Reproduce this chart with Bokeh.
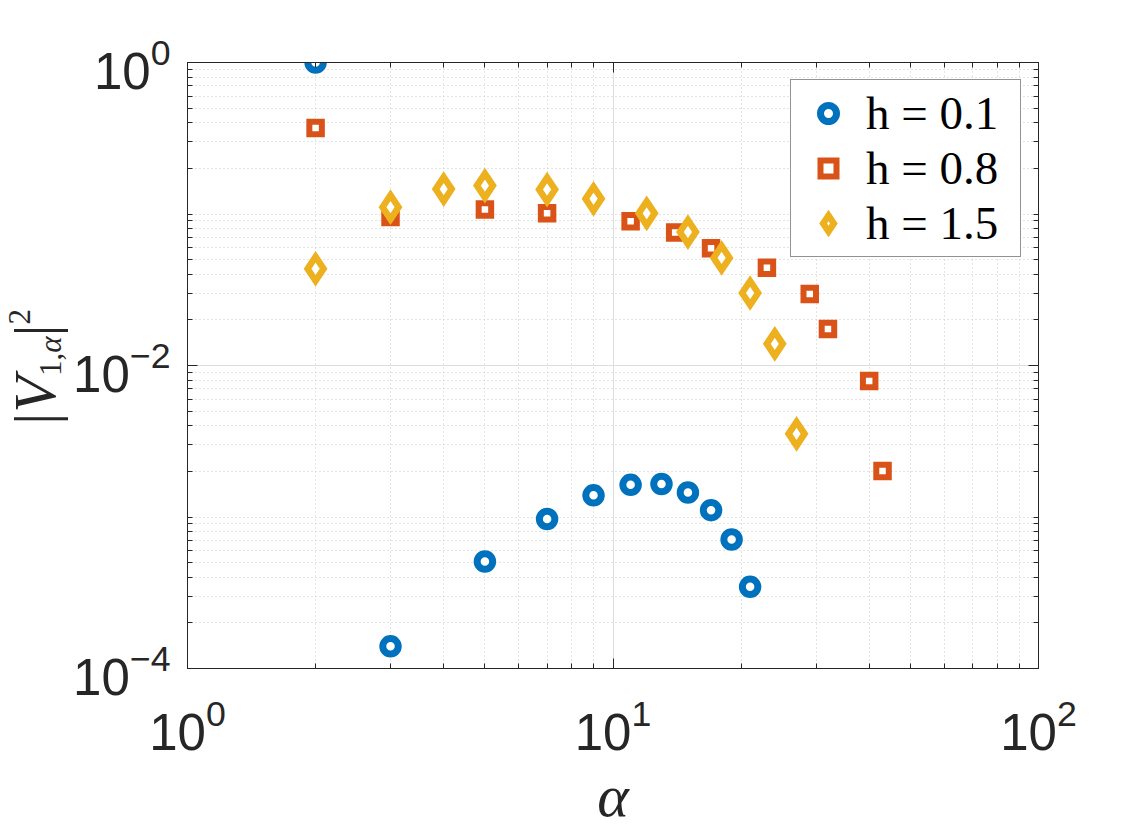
from bokeh.plotting import figure
from bokeh.layouts import row
from bokeh.models import (FixedTicker, LogAxis, Legend, LegendItem, Range1d, Div)
from bokeh.embed import file_html
from bokeh.resources import INLINE

# ---- data ----
alpha_h01 = [2, 3, 5, 7, 9, 11, 13, 15, 17, 19, 21]
v_h01 = [1.0, 1.40e-4, 5.08e-4, 9.7e-4, 1.39e-3, 1.63e-3, 1.65e-3, 1.45e-3, 1.11e-3, 7.1e-4, 3.46e-4]

alpha_h08 = [2, 3, 5, 7, 11, 14, 17, 23, 29, 32, 40, 43]
v_h08 = [0.37, 0.0957, 0.107, 0.101, 0.0897, 0.0755, 0.0595, 0.0441, 0.0297, 0.0174, 7.9e-3, 2.01e-3]

alpha_h15 = [2, 3, 4, 5, 7, 9, 12, 15, 18, 21, 24, 27]
v_h15 = [0.0435, 0.111, 0.146, 0.154, 0.145, 0.126, 0.101, 0.076, 0.0513, 0.0301, 0.0139, 3.54e-3]

labels = ["h = 0.1", "h = 0.8", "h = 1.5"]
x_label = "\u03b1"

x_major = [1, 10, 100]
x_minor = [m * d for d in (1, 10) for m in range(2, 10)]
y_major = [1e-4, 1e-2, 1]
y_minor = [m * 10.0 ** e for e in (-4, -3, -2, -1) for m in range(1, 10)
           if not (m == 1 and e in (-4, -2))]

BLUE = "#0072BD"
RED = "#D95319"
YEL = "#EDB120"
AX = "#262626"

DIVW = 70

p = figure(width=1146 - DIVW, height=834, x_axis_type="log", y_axis_type="log",
           x_range=Range1d(1, 100), y_range=Range1d(1e-4, 1),
           output_backend="svg", toolbar_location=None,
           min_border_left=185 - DIVW, min_border_right=108,
           min_border_top=62, min_border_bottom=166)
p.background_fill_color = "white"
p.border_fill_color = "white"
p.outline_line_color = AX
p.outline_line_width = 1

xt = FixedTicker(ticks=x_major, minor_ticks=x_minor)
yt = FixedTicker(ticks=y_major, minor_ticks=y_minor)

def style_axis(ax, ticker, standoff, show_labels=True):
    ax.ticker = ticker
    ax.axis_line_color = AX
    ax.axis_line_width = 1
    ax.major_tick_line_color = AX
    ax.minor_tick_line_color = AX
    ax.major_tick_in = 10
    ax.major_tick_out = 0
    ax.minor_tick_in = 5
    ax.minor_tick_out = 0
    ax.major_label_text_font = "Liberation Sans"
    ax.major_label_text_color = AX
    if show_labels:
        ax.major_label_text_font_size = "51px"
        ax.major_label_standoff = standoff
    else:
        ax.major_label_text_font_size = "2px"
        ax.major_label_text_alpha = 0
        ax.major_label_standoff = 0

bottom_ax = p.below[0]
left_ax = p.left[0]
style_axis(bottom_ax, xt, 29)
style_axis(left_ax, yt, 17)
top_ax = LogAxis()
right_ax = LogAxis()
style_axis(top_ax, xt, 0, False)
style_axis(right_ax, yt, 0, False)
p.add_layout(top_ax, "above")
p.add_layout(right_ax, "right")

bottom_ax.axis_label = x_label
bottom_ax.axis_label_text_font = "Liberation Serif"
bottom_ax.axis_label_text_font_style = "italic"
bottom_ax.axis_label_text_font_size = "60px"
bottom_ax.axis_label_text_color = AX
bottom_ax.axis_label_standoff = 10

for g, t in ((p.xgrid[0], xt), (p.ygrid[0], yt)):
    g.ticker = t
    g.grid_line_color = "#dedede"
    g.grid_line_width = 1
    g.minor_grid_line_color = "#c8c8c8"
    g.minor_grid_line_dash = "1 3"
    g.minor_grid_line_width = 1

r1 = p.scatter(alpha_h01, v_h01, marker="circle", size=15.5, line_width=7,
               line_color=BLUE, fill_color="white")
r2 = p.scatter(alpha_h08, v_h08, marker="square", size=12.5, line_width=6,
               line_color=RED, fill_color="white", line_join="miter")
r3 = p.scatter(alpha_h15, v_h15, marker="diamond", size=24, line_width=6.5,
               line_color=YEL, fill_color="white", line_join="miter")

legend = Legend(items=[LegendItem(label=labels[0], renderers=[r1]),
                       LegendItem(label=labels[1], renderers=[r2]),
                       LegendItem(label=labels[2], renderers=[r3])],
                location="top_right", margin=17, padding=6, spacing=1,
                glyph_width=62, glyph_height=40, label_height=45, label_width=148,
                label_standoff=7,
                label_text_font="Liberation Serif", label_text_font_size="47px",
                label_text_color="black",
                border_line_color=AX, border_line_width=1,
                background_fill_color="white", background_fill_alpha=1)
p.add_layout(legend)

# y-axis label |V_{1,alpha}|^2 as real HTML text, set vertically
ylab_html = (
    '<div style="width:%dpx;height:734px;display:flex;align-items:center;'
    'justify-content:center;">'
    '<span style="writing-mode:vertical-rl;text-orientation:sideways;'
    'transform:rotate(180deg);white-space:nowrap;'
    "font-family:'Liberation Serif';font-size:60px;line-height:1;color:#262626;\">"
    '|<i>V</i>'
    '<span style="font-size:31px;vertical-align:-6px;">1,<i>\u03b1</i></span>|'
    '<span style="font-size:31px;vertical-align:25px;">2</span></span></div>' % DIVW)
ydiv = Div(text=ylab_html, width=DIVW, height=834, margin=0)

layout = row(ydiv, p, spacing=0)
open("out.html", "w").write(file_html(layout, INLINE))
